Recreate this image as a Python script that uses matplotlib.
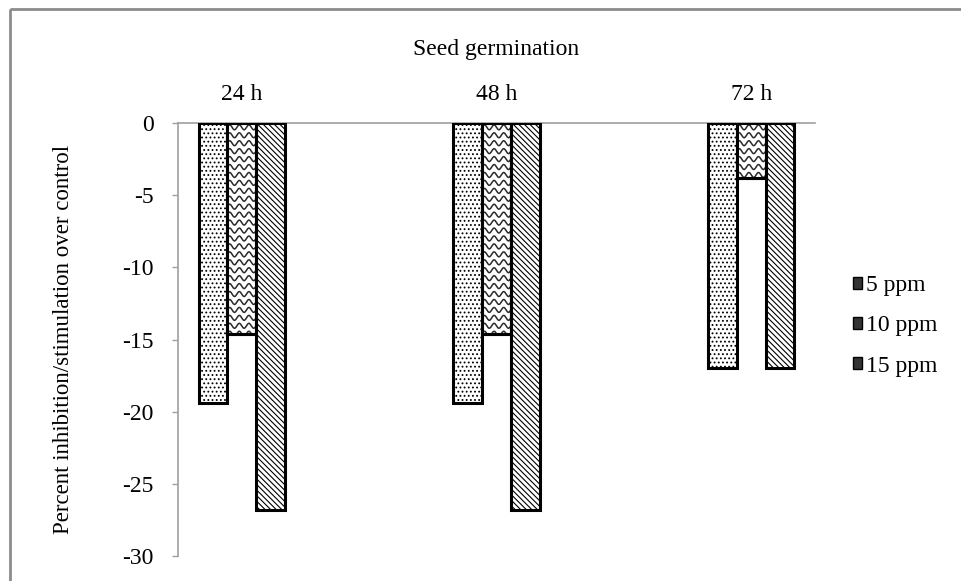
import numpy as np
import matplotlib
matplotlib.use("Agg")
import matplotlib.pyplot as plt
from matplotlib.patches import Rectangle, Patch

plt.rcParams['font.family'] = ['Liberation Serif', 'DejaVu Serif']
plt.rcParams['hatch.linewidth'] = 0.8
plt.rcParams['hatch.color'] = '#333333'

# data
times = ["24 h", "48 h", "72 h"]
series = ["5 ppm", "10 ppm", "15 ppm"]
ppm5 = [-19.4, -19.4, -17.0]
ppm10 = [-14.6, -14.6, -3.8]
ppm15 = [-26.8, -26.8, -17.0]
yticks = [0, -5, -10, -15, -20, -25, -30]

W, H = 962, 581
FS = 17
fig = plt.figure(figsize=(W / 100, H / 100), dpi=100)

# outer chart frame (clipped by the image on right/bottom)
fig.patches.append(Rectangle((10 / W, 1 - 9 / H), 2, -2, transform=fig.transFigure,
                             fill=False, edgecolor='#8c8c8c', linewidth=2, zorder=0))

ax = fig.add_axes([178 / W, 1 - 556 / H, (815 - 178) / W, (556 - 123) / H])

x = np.arange(len(times))
bw = 0.113
hatches = ['....', None, '\\\\\\\\\\\\']
vals = [ppm5, ppm10, ppm15]

for k, (name, v, h) in enumerate(zip(series, vals, hatches)):
    bars = ax.bar(x + (k - 1) * bw, v, bw, facecolor='white', edgecolor='black',
                  linewidth=2.2, hatch=h, zorder=3)
    if k == 1:
        # wavy fill pattern, clipped to each bar
        for b in bars:
            x0 = b.get_x()
            y0 = b.get_y() + b.get_height()
            xs = np.linspace(x0, x0 + bw, 200)
            for yy in np.arange(-0.3, y0 - 0.6, -0.55):
                ln, = ax.plot(xs, yy + 0.17 * np.sin(2 * np.pi * (xs - x0) / (bw / 3)),
                              color='#2a2a2a', lw=1.1, zorder=3.2)
                ln.set_clip_path(b)
        # redraw outlines above the waves
        ax.bar(x + (k - 1) * bw, v, bw, fill=False, edgecolor='black',
               linewidth=2.2, zorder=3.4)

ax.set_xlim(-0.25, 2.25)
ax.set_ylim(-30, 0)
ax.set_yticks(yticks)
ax.set_yticklabels([str(t) for t in yticks], fontsize=FS)
ax.tick_params(axis='y', length=4.5, width=1, color='#a0a0a0', pad=13)

ax.xaxis.tick_top()
ax.set_xticks(x)
ax.set_xticklabels(times, fontsize=FS)
ax.tick_params(axis='x', length=0, pad=13)
ax.xaxis.set_label_position('top')
ax.set_xlabel("Seed germination", fontsize=FS, labelpad=21)

for s in ['right', 'bottom']:
    ax.spines[s].set_visible(False)
for s in ['left', 'top']:
    ax.spines[s].set_color('#a0a0a0')
    ax.spines[s].set_linewidth(1.2)

ax.set_ylabel("Percent inhibition/stimulation over control", fontsize=16.5, labelpad=35)

handles = [Patch(facecolor='#333333', edgecolor='black') for _ in series]
fig.legend(handles, series, loc='upper left', bbox_to_anchor=(853 / W, 1 - 275 / H),
           frameon=False, fontsize=FS, handlelength=0.4, handleheight=0.4,
           handletextpad=0.15, labelspacing=0.82, borderpad=0, borderaxespad=0)

fig.savefig("out.png", dpi=100)
